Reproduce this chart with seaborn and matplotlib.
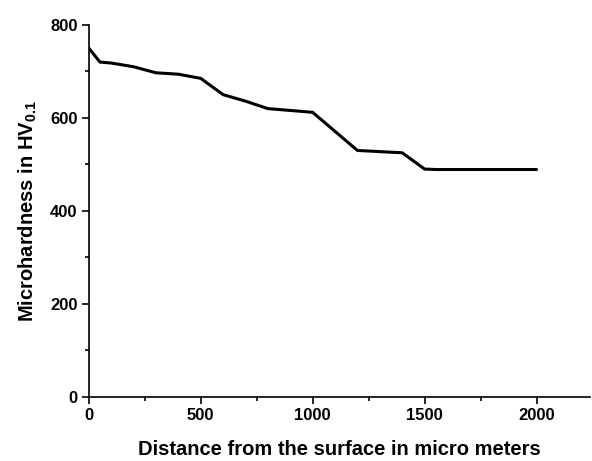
import pandas as pd
import seaborn as sns
import matplotlib.pyplot as plt
from matplotlib.ticker import MultipleLocator

# valores
distance = [0, 50, 100, 200, 300, 400, 500, 600, 700, 800, 1000, 1200, 1400, 1500, 1550, 2000]
hardness = [750, 720, 718, 710, 697, 694, 685, 650, 636, 620, 612, 530, 525, 490, 489, 489]

df = pd.DataFrame({"distance": distance, "hardness": hardness})

sns.set_style("ticks")
plt.rcParams['font.family'] = ['Liberation Sans', 'DejaVu Sans']
plt.rcParams['font.weight'] = 'bold'
plt.rcParams['text.color'] = 'black'
plt.rcParams['axes.labelcolor'] = 'black'
plt.rcParams['mathtext.fontset'] = 'custom'
plt.rcParams['mathtext.rm'] = 'Liberation Sans:bold'
plt.rcParams['mathtext.bf'] = 'Liberation Sans:bold'

fig = plt.figure(figsize=(5.92, 4.61), dpi=100)
ax = fig.add_axes([0.150, 0.139, 0.847, 0.807])
sns.lineplot(data=df, x="distance", y="hardness", color="black", linewidth=2.2, ax=ax)

ax.set_xlim(0, 2240)
ax.set_ylim(0, 800)
ax.xaxis.set_major_locator(MultipleLocator(500))
ax.xaxis.set_minor_locator(MultipleLocator(250))
ax.yaxis.set_major_locator(MultipleLocator(200))
ax.yaxis.set_minor_locator(MultipleLocator(100))
ax.tick_params(which='major', length=5, width=1.2, labelsize=12, color='black',
               labelcolor='black', pad=3)
ax.tick_params(which='minor', length=3, width=1.2, color='black')
for lab in ax.get_xticklabels() + ax.get_yticklabels():
    lab.set_fontweight('bold')

sns.despine(ax=ax)
for s in ['left', 'bottom']:
    ax.spines[s].set_linewidth(1.2)
    ax.spines[s].set_color('black')

ax.set_xlabel("Distance from the surface in micro meters", fontsize=14.5, fontweight='bold',
              labelpad=12, color='black')
ax.set_ylabel(r"Microhardness in HV$_{0.1}$", fontsize=14.5, fontweight='bold',
              labelpad=8, color='black')

fig.savefig("out.png", dpi=100)
